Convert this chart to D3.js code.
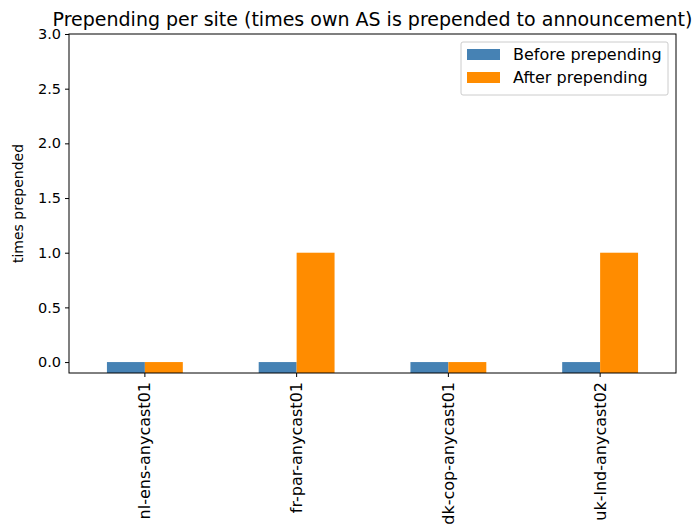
<!DOCTYPE html>
<html>
<head>
<meta charset="utf-8">
<script src="https://cdn.jsdelivr.net/npm/d3@7"></script>
<style>
  body { margin: 0; background: #fff; }
  text { font-family: "DejaVu Sans", sans-serif; fill: #000; }
</style>
</head>
<body>
<svg width="698" height="529"></svg>
<script>
// data
var sites = ["nl-ens-anycast01", "fr-par-anycast01", "dk-cop-anycast01", "uk-lnd-anycast02"];
var beforeVals = [0, 0, 0, 0];
var afterVals = [0, 1, 0, 1];
var seriesNames = ["Before prepending", "After prepending"];
var seriesColors = ["#4682b4", "#ff8c00"];
var yTicks = [0.0, 0.5, 1.0, 1.5, 2.0, 2.5, 3.0];

var svg = d3.select("svg");
var margin = {left: 69, right: 22, top: 34, bottom: 156};
var W = 698, H = 529;

var x = d3.scaleBand()
  .domain(sites)
  .range([margin.left, W - margin.right])
  .padding(0);

var y = d3.scaleLinear()
  .domain([-0.1, 3.0])
  .range([H - margin.bottom, margin.top]);

var series = [beforeVals, afterVals];
var barW = x.bandwidth() * 0.25;

// bars (drawn from the bottom of the axes, like the original)
series.forEach(function(vals, s) {
  svg.append("g").selectAll("rect")
    .data(vals)
    .enter()
    .append("rect")
    .attr("x", function(d, i) { return x(sites[i]) + x.bandwidth() / 2 + (s - 1) * barW; })
    .attr("width", barW)
    .attr("y", function(d) { return y(d); })
    .attr("height", function(d) { return y.range()[0] - y(d); })
    .attr("fill", seriesColors[s]);
});

// axes
var yAxis = svg.append("g")
  .attr("transform", "translate(" + margin.left + ",0)")
  .call(d3.axisLeft(y).tickValues(yTicks).tickFormat(d3.format(".1f")).tickSize(4).tickPadding(4));
yAxis.select(".domain").remove();
yAxis.selectAll("text").style("font-size", "14.5px");

var xAxis = svg.append("g")
  .attr("transform", "translate(0," + (H - margin.bottom) + ")")
  .call(d3.axisBottom(x).tickSize(4).tickSizeOuter(0));
xAxis.select(".domain").remove();
xAxis.selectAll("text")
  .style("font-size", "16px")
  .attr("transform", "rotate(-90)")
  .attr("text-anchor", "end")
  .attr("x", -9)
  .attr("y", 0)
  .attr("dy", "0.35em");

// frame
svg.append("rect")
  .attr("x", margin.left)
  .attr("y", margin.top)
  .attr("width", W - margin.left - margin.right)
  .attr("height", H - margin.top - margin.bottom)
  .attr("fill", "none")
  .attr("stroke", "#000")
  .attr("stroke-width", 1);

// title + label
svg.append("text")
  .attr("x", (margin.left + W - margin.right) / 2)
  .attr("y", 26)
  .attr("text-anchor", "middle")
  .style("font-size", "19px")
  .text("Prepending per site (times own AS is prepended to announcement)");

svg.append("text")
  .attr("transform", "translate(23," + ((margin.top + H - margin.bottom) / 2) + ") rotate(-90)")
  .attr("text-anchor", "middle")
  .style("font-size", "14px")
  .text("times prepended");

// legend
var lg = svg.append("g").attr("transform", "translate(461,42)");
lg.append("rect")
  .attr("width", 207).attr("height", 53).attr("rx", 2)
  .attr("fill", "#fff").attr("stroke", "#ccc").attr("stroke-width", 1);
seriesNames.forEach(function(name, i) {
  lg.append("rect")
    .attr("x", 6).attr("y", 7 + i * 23)
    .attr("width", 33).attr("height", 11)
    .attr("fill", seriesColors[i]);
  lg.append("text")
    .attr("x", 52).attr("y", 18 + i * 23)
    .style("font-size", "16px")
    .text(name);
});
</script>
</body>
</html>
